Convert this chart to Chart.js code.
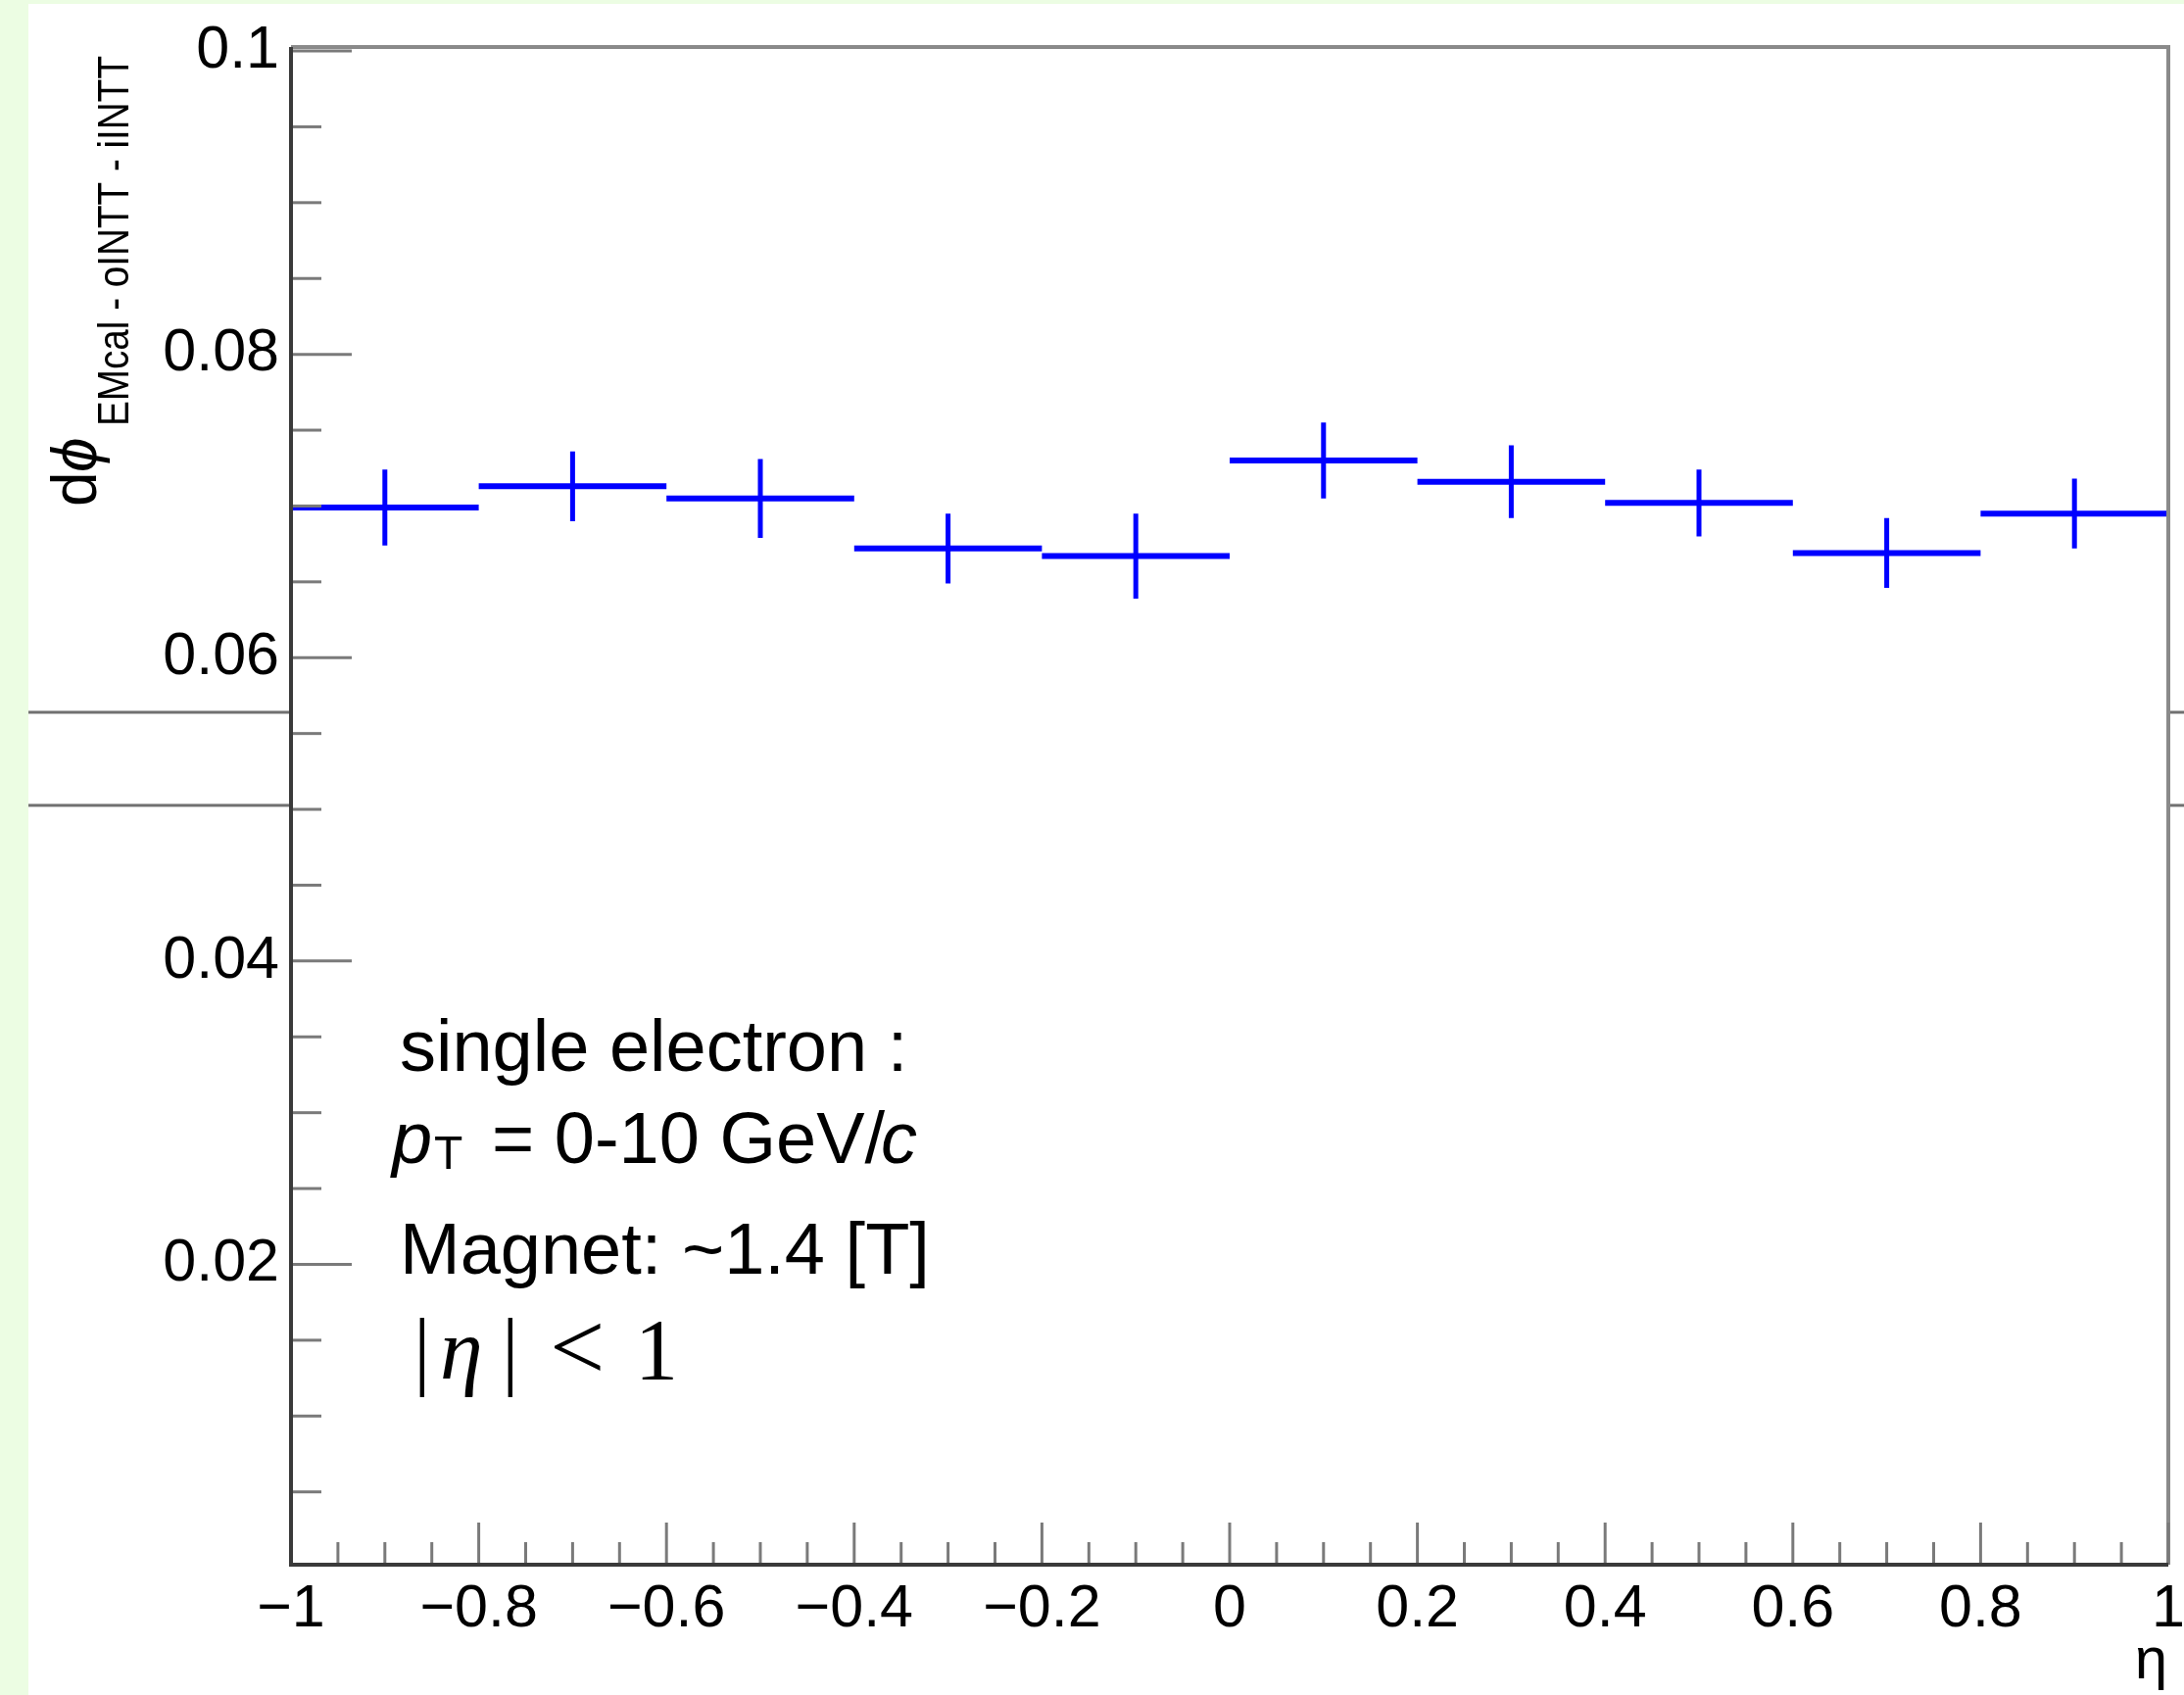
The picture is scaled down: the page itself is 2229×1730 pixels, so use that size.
<!DOCTYPE html>
<html><head><meta charset="utf-8">
<script src="https://cdn.jsdelivr.net/npm/chart.js@4.4.1/dist/chart.umd.min.js"></script>
<style>html,body{margin:0;padding:0;background:#fff;overflow:hidden}canvas{display:block}</style>
</head><body>
<canvas id="c" width="2229" height="1730"></canvas>
<script>
// ---- data ----
const binLow    = [-1.0, -0.8, -0.6, -0.4, -0.2, 0.0, 0.2, 0.4, 0.6, 0.8];
const binHigh   = [-0.8, -0.6, -0.4, -0.2, 0.0, 0.2, 0.4, 0.6, 0.8, 1.0];
const binCenter = [-0.9, -0.7, -0.5, -0.3, -0.1, 0.1, 0.3, 0.5, 0.7, 0.9];
const dphiValues = [0.0699, 0.0713, 0.0705, 0.0672, 0.0667, 0.0730, 0.0716, 0.0702, 0.0669, 0.0695];
const dphiErrors = [0.0025, 0.0023, 0.0026, 0.0023, 0.0028, 0.0025, 0.0024, 0.0022, 0.0023, 0.0023];
const xTickValues = [-1, -0.8, -0.6, -0.4, -0.2, 0, 0.2, 0.4, 0.6, 0.8, 1];
const xTickLabels = ['\u22121', '\u22120.8', '\u22120.6', '\u22120.4', '\u22120.2', '0', '0.2', '0.4', '0.6', '0.8', '1'];
const yTickValues = [0.02, 0.04, 0.06, 0.08, 0.1];
const yTickLabels = ['0.02', '0.04', '0.06', '0.08', '0.1'];
const xMinorPerMajor = 4;
const yMinorPerMajor = 4;
const yTitleMain = 'd';
const yTitlePhi = '\u03D5';
const yTitleSub = 'EMcal - oINTT - iINTT';
const xTitle = '\u03B7';

// ---- build library datasets from arrays ----
const hBars = [];
binLow.forEach((lo, i) => {
  hBars.push({x: lo, y: dphiValues[i]}, {x: binHigh[i], y: dphiValues[i]}, {x: binHigh[i], y: null});
});
const vBars = [];
binCenter.forEach((c, i) => {
  vBars.push({x: c, y: dphiValues[i] - dphiErrors[i]}, {x: c, y: dphiValues[i] + dphiErrors[i]}, {x: c, y: null});
});
const centers = binCenter.map((c, i) => ({x: c, y: dphiValues[i]}));

const SANS = "'Liberation Sans', Arial, Helvetica, sans-serif";
const SERIF = "'Liberation Serif', 'Times New Roman', serif";

function minorTicks(majors, n, lo, hi) {
  const step = (majors[1] - majors[0]) / n;
  const out = [];
  for (let v = majors[0] - 20 * step; v <= hi + 1e-9; v += step) {
    if (v >= lo - 1e-9) out.push(v);
  }
  return out;
}

const rootPlugin = {
  id: 'rootStyle',
  beforeDraw(chart) {
    const ctx = chart.ctx, W = chart.width, H = chart.height;
    ctx.save();
    ctx.fillStyle = '#ffffff';
    ctx.fillRect(0, 0, W, H);
    ctx.fillStyle = '#ecfde3';
    ctx.fillRect(0, 0, 29, H);
    ctx.fillRect(0, 0, W, 4);
    // stray lines from the surrounding canvas
    ctx.strokeStyle = '#707070';
    ctx.lineWidth = 3;
    [727, 822].forEach(y => {
      ctx.beginPath(); ctx.moveTo(29, y); ctx.lineTo(297, y); ctx.stroke();
      ctx.beginPath(); ctx.moveTo(2213, y); ctx.lineTo(W, y); ctx.stroke();
    });
    ctx.restore();
  },
  afterDatasetsDraw(chart) {
    const ctx = chart.ctx, a = chart.chartArea;
    const xs = chart.scales.x, ys = chart.scales.y;
    ctx.save();
    ctx.lineCap = 'butt';
    // frame (top, right)
    ctx.strokeStyle = '#8a8a8a';
    ctx.lineWidth = 4;
    ctx.beginPath(); ctx.moveTo(a.left, a.top); ctx.lineTo(a.right, a.top); ctx.lineTo(a.right, a.bottom); ctx.stroke();
    // ticks
    ctx.strokeStyle = '#7a7a7a';
    ctx.lineWidth = 3;
    const yMinors = minorTicks(yTickValues, yMinorPerMajor, ys.min, ys.max);
    yMinors.forEach(v => {
      const isMajor = yTickValues.some(m => Math.abs(m - v) < 1e-7);
      const p = ys.getPixelForValue(v);
      ctx.beginPath(); ctx.moveTo(a.left, p); ctx.lineTo(a.left + (isMajor ? 62 : 31), p); ctx.stroke();
    });
    const xMinors = minorTicks(xTickValues, xMinorPerMajor, xs.min, xs.max);
    xMinors.forEach(v => {
      const isMajor = xTickValues.some(m => Math.abs(m - v) < 1e-7);
      const p = xs.getPixelForValue(v);
      ctx.beginPath(); ctx.moveTo(p, a.bottom); ctx.lineTo(p, a.bottom - (isMajor ? 43 : 23)); ctx.stroke();
    });
    // axis lines
    ctx.strokeStyle = '#3a3a3a';
    ctx.lineWidth = 4;
    ctx.beginPath(); ctx.moveTo(a.left, a.top); ctx.lineTo(a.left, a.bottom); ctx.lineTo(a.right, a.bottom); ctx.stroke();
    ctx.restore();
  },
  afterDraw(chart) {
    const ctx = chart.ctx;
    ctx.save();
    ctx.fillStyle = '#000';
    ctx.textBaseline = 'alphabetic';
    ctx.textAlign = 'left';
    // annotation block
    ctx.font = '74px ' + SANS;
    ctx.fillText('single electron :', 408, 1093);
    ctx.font = 'italic 74px ' + SANS;
    ctx.fillText('p', 400, 1187);
    ctx.font = '48px ' + SANS;
    ctx.fillText('T', 443, 1193);
    ctx.font = '74px ' + SANS;
    ctx.fillText('= 0-10 GeV/', 502, 1187);
    const w = ctx.measureText('= 0-10 GeV/').width;
    ctx.font = 'italic 74px ' + SANS;
    ctx.fillText('c', 502 + w - 4, 1187);
    ctx.font = '74px ' + SANS;
    ctx.fillText('Magnet: ~1.4 [T]', 408, 1300);
    ctx.font = '88px ' + SERIF;
    ctx.fillText('|', 422, 1407);
    ctx.fillText('|', 512, 1407);
    ctx.fillText('1', 648, 1407);
    ctx.font = '100px ' + SERIF;
    ctx.fillText('<', 561, 1408);
    ctx.font = 'italic 88px ' + SERIF;
    ctx.fillText('\u03B7', 449, 1407);
    // x title
    ctx.font = '60px ' + SANS;
    ctx.textAlign = 'right';
    ctx.fillText(xTitle, 2212, 1713);
    // y title (rotated)
    ctx.textAlign = 'left';
    ctx.translate(98, 517);
    ctx.rotate(-Math.PI / 2);
    ctx.font = '64px ' + SANS;
    ctx.fillText(yTitleMain, 0, 0);
    ctx.font = 'italic 64px ' + SANS;
    ctx.fillText(yTitlePhi, 35, 0);
    ctx.font = '45px ' + SANS;
    const sw = ctx.measureText(yTitleSub).width;
    ctx.translate(82, 33);
    ctx.scale(378 / sw, 1);
    ctx.fillText(yTitleSub, 0, 0);
    ctx.restore();
  }
};

new Chart(document.getElementById('c'), {
  type: 'scatter',
  data: {
    datasets: [
      {data: hBars, showLine: true, spanGaps: false, borderColor: '#0000ff', borderWidth: 6, pointRadius: 0, tension: 0, borderCapStyle: 'butt'},
      {data: vBars, showLine: true, spanGaps: false, borderColor: '#0000ff', borderWidth: 5, pointRadius: 0, tension: 0, borderCapStyle: 'butt'},
      {data: centers, showLine: false, pointRadius: 1.2, pointBackgroundColor: '#000', pointBorderWidth: 0}
    ]
  },
  options: {
    responsive: false,
    animation: false,
    devicePixelRatio: 1,
    layout: {padding: {left: 0, right: 16, top: 48, bottom: 0}},
    plugins: {legend: {display: false}, tooltip: {enabled: false}},
    scales: {
      x: {
        type: 'linear', position: 'bottom', min: -1, max: 1,
        afterBuildTicks: s => { s.ticks = xTickValues.map(v => ({value: v})); },
        afterFit: s => { s.height = 133; s.paddingLeft = 0; s.paddingRight = 0; },
        grid: {display: false, drawTicks: false},
        border: {display: false},
        ticks: {
          autoSkip: false, maxRotation: 0, minRotation: 0, padding: 10, color: '#000',
          font: {family: SANS, size: 61},
          callback: v => xTickLabels[xTickValues.findIndex(t => Math.abs(t - v) < 1e-9)]
        }
      },
      y: {
        type: 'linear', position: 'left', min: 0.0002, max: 0.10026,
        afterBuildTicks: s => { s.ticks = yTickValues.map(v => ({value: v})); },
        afterFit: s => { s.width = 297; s.paddingTop = 0; s.paddingBottom = 0; },
        grid: {display: false, drawTicks: false},
        border: {display: false},
        ticks: {
          padding: 12, color: '#000',
          font: {family: SANS, size: 61},
          callback: v => yTickLabels[yTickValues.findIndex(t => Math.abs(t - v) < 1e-9)]
        }
      }
    }
  },
  plugins: [rootPlugin]
});
</script>
</body></html>
